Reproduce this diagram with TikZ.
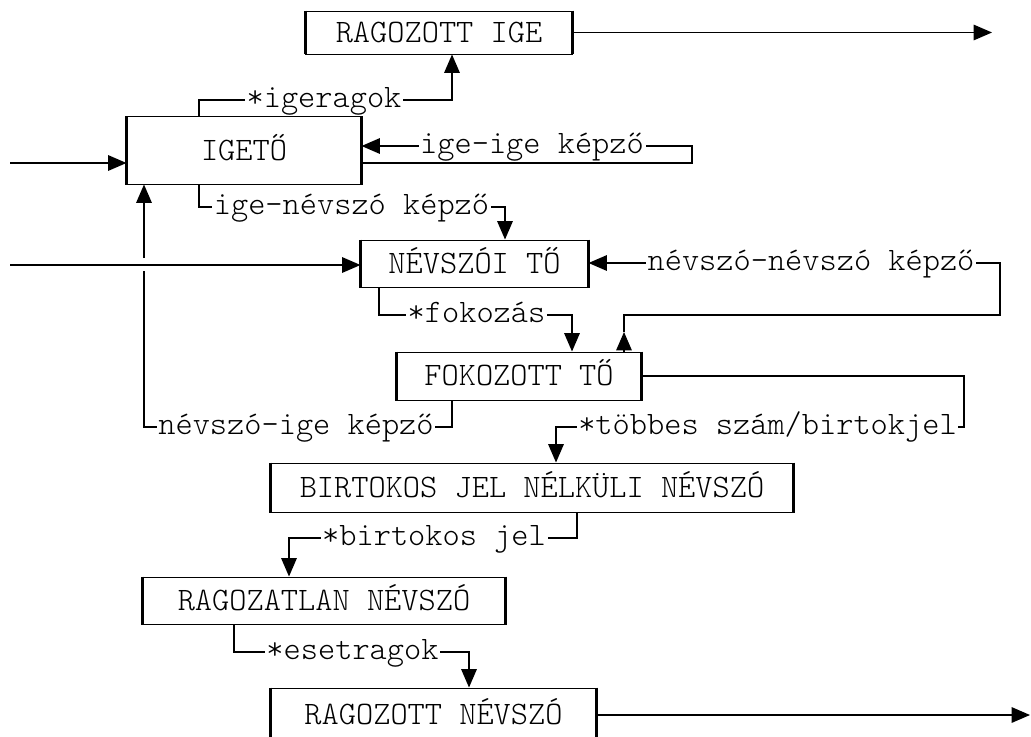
\documentclass[tikz,border=0pt]{standalone}
\usepackage{fontspec}
\setmonofont{Latin Modern Mono Light}
\usetikzlibrary{arrows.meta}
\begin{document}
\begin{tikzpicture}[x=0.025cm,y=-0.025cm,
	txt/.style={font=\ttfamily\fontsize{23.3pt}{28pt}\selectfont},
	box/.style={txt,draw,line width=0.7pt,inner sep=0pt,text height=14pt,text depth=0pt},
	lbl/.style={txt,inner sep=1pt,text height=16pt,text depth=5pt},
	conn/.style={line width=0.9pt},
	arr/.style={conn,-{Triangle[length=13pt,width=11pt]}}]
	\clip (0,0) rectangle (1031,736);
	% boxes
	\node[box,minimum width=6.65cm,minimum height=1.075cm] (rige) at (439,32.5) {RAGOZOTT IGE};
	\node[box,minimum width=5.85cm,minimum height=1.675cm] (igeto) at (244,150.5) {IGETŐ};
	\node[box,minimum width=5.675cm,minimum height=1.175cm] (nevszoi) at (474.5,263.5) {NÉVSZÓI TŐ};
	\node[box,minimum width=6.1cm,minimum height=1.2cm] (fok) at (519,376) {FOKOZOTT TŐ};
	\node[box,minimum width=13.05cm,minimum height=1.225cm] (birt) at (532,487.5) {BIRTOKOS JEL NÉLKÜLI NÉVSZÓ};
	\node[box,minimum width=9.05cm,minimum height=1.175cm] (ragtlan) at (324,600.5) {RAGOZATLAN NÉVSZÓ};
	\node[box,minimum width=8.125cm,minimum height=1.35cm] (rnev) at (433.5,715) {RAGOZOTT NÉVSZÓ};
	\foreach \n in {rige,igeto,nevszoi,fok,birt,ragtlan,rnev}
		\draw[line width=1.6pt] (\n.north west) -- (\n.south west) (\n.north east) -- (\n.south east);
	% labels
	\node[lbl] (igerag) at (324,100) {*igeragok};
	\node[lbl] (igeige) at (532,146) {ige-ige képző};
	\node[lbl] (igenev) at (351.5,207) {ige-névszó képző};
	\node[lbl] (neviige) at (296,427) {névszó-ige képző};
	\node[lbl] (nevnev) at (811,263) {névszó-névszó képző};
	\node[lbl] (fokoz) at (476.5,315) {*fokozás};
	\node[lbl] (tobbes) at (767.5,427) {*többes szám/birtokjel};
	\node[lbl] (birtjel) at (434,538) {*birtokos jel};
	\node[lbl] (esetrag) at (352.5,652) {*esetragok};
	% corners
	\foreach \c/\x/\y in {e1/992/0, e2/1030/0, s1/10/163, s2/10/265,
			a1/199/100, a2/452/100, b1/692/163, b2/692/146,
			c1/199/207, c2/505/207, d1/452/427, d2/144/427, d3/144/271, d4/144/258,
			f1/379/315, f2/572/315, g1/624/332, g2/624/315, g3/1000/315, g4/1000/263,
			h1/964/376, h2/964/427, h3/556/427, i1/577/538, i2/289/538,
			j1/234/652, j2/469/652}
		\coordinate (\c) at (\x,\y);
	% connectors
	\draw[arr] (rige.east) -- (rige.east -| e1);
	\draw[arr] (rnev.east) -- (rnev.east -| e2);
	\draw[arr] (s1) -- (s1 -| igeto.west);
	\draw[arr] (s2) -- (s2 -| nevszoi.west);
	\draw[conn] (a1 |- igeto.north) -- (a1) -- (igerag);
	\draw[arr] (igerag) -- (a2) -- (a2 |- rige.south);
	\draw[conn] (b1 -| igeto.east) -- (b1) -- (b2) -- (igeige);
	\draw[arr] (igeige) -- (b2 -| igeto.east);
	\draw[conn] (c1 |- igeto.south) -- (c1) -- (igenev);
	\draw[arr] (igenev) -- (c2) -- (c2 |- nevszoi.north);
	\draw[conn] (d1 |- fok.south) -- (d1) -- (neviige);
	\draw[conn] (neviige) -- (d2) -- (d3);
	\draw[arr] (d4) -- (d4 |- igeto.south);
	\draw[conn] (f1 |- nevszoi.south) -- (f1) -- (fokoz);
	\draw[arr] (fokoz) -- (f2) -- (f2 |- fok.north);
	\draw[arr] (g1 |- fok.north) -- (g1);
	\draw[conn] (g1) -- (g2) -- (g3) -- (g4) -- (nevnev);
	\draw[arr] (nevnev) -- (nevnev -| nevszoi.east);
	\draw[conn] (h1 -| fok.east) -- (h1) -- (h2) -- (tobbes);
	\draw[arr] (tobbes) -- (h3) -- (h3 |- birt.north);
	\draw[conn] (i1 |- birt.south) -- (i1) -- (birtjel);
	\draw[arr] (birtjel) -- (i2) -- (i2 |- ragtlan.north);
	\draw[conn] (j1 |- ragtlan.south) -- (j1) -- (esetrag);
	\draw[arr] (esetrag) -- (j2) -- (j2 |- rnev.north);
\end{tikzpicture}
\end{document}
